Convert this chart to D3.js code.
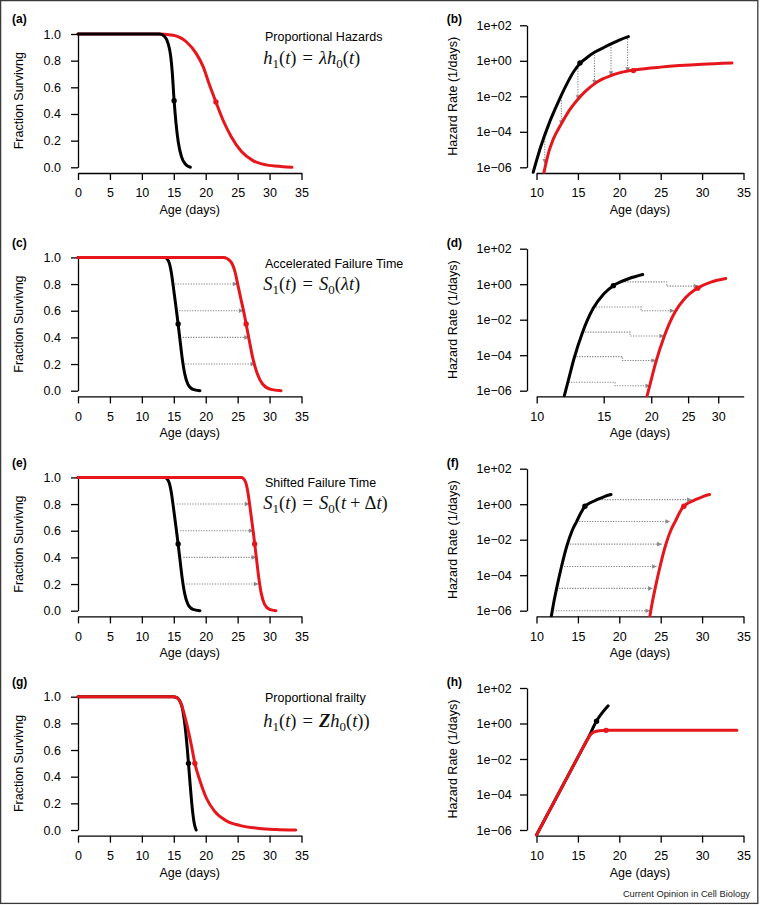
<!DOCTYPE html>
<html><head><meta charset="utf-8">
<script src="https://cdn.jsdelivr.net/npm/d3@7"></script>
<style>body{margin:0;background:#fff}</style>
</head><body>
<svg id="fig" width="760" height="905"></svg>
<script>
// ---------------- DATA ----------------
const survXTicks = [0,5,10,15,20,25,30,35];
const survYTicks = [0,0.2,0.4,0.6,0.8,1.0];
const survYLabels = ["0.0","0.2","0.4","0.6","0.8","1.0"];
const hazXTicks = [10,15,20,25,30,35];
const hazXTicksLog = [10,15,20,25,30];
const hazYTicks = [1e-6,1e-4,1e-2,1,1e2];
const hazYLabels = ["1e\u221206","1e\u221204","1e\u221202","1e+00","1e+02"];

// (a) proportional hazards - survival
const aBlack = [[0,1],[12.8,1],[13.6,0.98],[14.1,0.93],[14.5,0.84],[14.75,0.72],[15.05,0.5],[15.35,0.33],[15.7,0.19],[16.2,0.08],[16.8,0.025],[17.6,0]];
const aRed = [[0,1],[12.3,1],[14.9,0.99],[17.0,0.94],[18.5,0.855],[19.6,0.755],[20.5,0.63],[21.6,0.49],[22.7,0.355],[24.0,0.23],[25.6,0.118],[27.4,0.05],[29.5,0.018],[32.1,0.005],[33.5,0]];
const aDots = [[15.05,0.5],[21.6,0.49]];

// (b) proportional hazards - hazard
const bBlack = [[9.6,5.2e-7],[10.5,1.4e-5],[11.5,2.8e-4],[12.5,3.5e-3],[13.5,0.035],[14.5,0.25],[15.25,0.71],[16,1.4],[17,3.0],[18,5.2],[19,8.9],[20,14.8],[21.1,22.9]];
const bRed = [[10.9,5.2e-7],[11.5,7.9e-6],[12,3.6e-5],[13,2.8e-4],[14,1.7e-3],[15,6.9e-3],[16,0.021],[17,0.05],[18,0.095],[19,0.148],[20,0.209],[21,0.269],[22,0.316],[25,0.44],[30,0.63],[33.6,0.74]];
const bDots = [[15.25,0.76],[21.7,0.28]];
const bArrowX = [11,13,15,17,19,21];
const bArrowTop = [4.2e-5,0.012,0.76,3.0,8.3,17.4];
const bArrowBottom = [1.6e-6,2.5e-4,6.3e-3,0.045,0.141,0.24];

// (c) accelerated failure time - survival
const cBlack = [[0,1],[13.6,1],[14.2,0.97],[14.6,0.89],[14.9,0.79],[15.2,0.68],[15.5,0.57],[15.75,0.47],[16.0,0.37],[16.3,0.25],[16.7,0.13],[17.2,0.05],[18.0,0.01],[19.1,0]];
const cRed = [[0,1],[22.8,1],[23.9,0.97],[24.6,0.89],[25.05,0.79],[25.55,0.68],[26.05,0.57],[26.45,0.47],[26.85,0.37],[27.35,0.25],[28.05,0.13],[28.9,0.05],[30.2,0.01],[31.8,0]];
const cDots = [[15.68,0.5],[26.33,0.5]];
const cArrowY = [0.8,0.6,0.4,0.2];
const cArrowFrom = [15.2,15.83,16.4,16.77];
const cArrowTo = [24.97,25.91,26.75,27.74];

// (d) accelerated failure time - hazard (log age axis)
const dBlack = [[11.82,5.2e-7],[12.11,3.8e-6],[12.53,6.3e-5],[13.18,1.8e-3],[14.09,0.045],[15.0,0.28],[15.9,0.83],[16.49,1.26],[17.5,2.1],[19.0,3.5]];
const dRed = [[19.5,5.2e-7],[19.86,2.3e-6],[20.55,3.8e-5],[21.62,1.1e-3],[23.1,0.027],[24.6,0.17],[26.1,0.5],[27.0,0.76],[28.7,1.32],[31.4,2.1]];
const dDots = [[15.9,0.83],[26.5,0.6]];
const dArrowFromX = [12.11,12.53,13.18,14.09,16.49];
const dArrowFromY = [3.0e-6,8.3e-5,2.0e-3,0.052,1.35];
const dArrowStepX = [16.07,16.8,17.59,18.8,21.97];
const dArrowToY = [1.9e-6,5.0e-5,1.2e-3,0.032,0.78];
const dArrowToX = [19.86,20.59,21.61,23.0,26.6];

// (e) shifted failure time - survival
const eBlack = [[0,1],[13.6,1],[14.2,0.97],[14.6,0.89],[14.9,0.79],[15.2,0.68],[15.5,0.57],[15.75,0.47],[16.0,0.37],[16.3,0.25],[16.7,0.13],[17.2,0.05],[18.0,0.01],[19.1,0]];
const eRed = [[0,1],[25.6,1],[26.2,0.97],[26.6,0.89],[26.9,0.79],[27.2,0.68],[27.5,0.57],[27.75,0.47],[28.0,0.37],[28.3,0.25],[28.7,0.13],[29.2,0.05],[30.0,0.01],[31.0,0]];
const eDots = [[15.68,0.5],[27.66,0.5]];
const eArrowY = [0.8,0.6,0.4,0.2];
const eArrowFrom = [15.46,15.99,16.51,16.93];
const eArrowTo = [26.85,27.48,27.9,28.26];

// (f) shifted failure time - hazard
const fBlack = [[11.8,5.2e-7],[12.1,3.2e-6],[12.45,2.0e-5],[13.0,2.8e-4],[13.7,5.0e-3],[14.3,0.032],[14.84,0.105],[15.4,0.35],[15.85,0.76],[16.5,1.2],[17.3,1.8],[18.2,2.7],[19.0,3.5]];
const fRed = [[23.7,5.2e-7],[24.0,3.2e-6],[24.35,2.0e-5],[24.9,2.8e-4],[25.6,5.0e-3],[26.2,0.032],[26.75,0.105],[27.3,0.35],[27.75,0.76],[28.4,1.2],[29.2,1.8],[30.1,2.7],[30.9,3.5]];
const fDots = [[15.85,0.76],[27.8,0.76]];
const fArrowY = [1.0e-6,1.8e-5,3.1e-4,5.6e-3,0.105,1.8];
const fArrowFrom = [12.0,12.42,13.02,13.7,14.84,17.26];
const fArrowTo = [23.71,24.03,24.52,25.12,26.13,28.75];

// (g) proportional frailty - survival
const gBlack = [[0,1],[14.9,1],[15.4,0.995],[16.2,0.94],[16.6,0.84],[16.9,0.72],[17.15,0.59],[17.35,0.47],[17.6,0.32],[17.9,0.16],[18.2,0.05],[18.5,0]];
const gRed = [[0,1],[14.9,1],[15.4,0.995],[16.2,0.94],[17.0,0.8],[17.8,0.625],[18.3,0.5],[19.1,0.37],[20.1,0.24],[21.4,0.14],[23.2,0.07],[25.3,0.035],[28.4,0.012],[31.0,0.004],[34.1,0]];
const gDots = [[17.3,0.5],[18.3,0.5]];

// (h) proportional frailty - hazard
const hBlack = [[10,5.2e-7],[15.5,0.035],[16.2,0.14],[17.2,1.26],[18.65,10]];
const hRed = [[10,5.2e-7],[15.5,0.035],[16.2,0.14],[16.6,0.26],[17.0,0.34],[17.6,0.39],[18.4,0.41],[34.2,0.41]];
const hDots = [[17.25,1.35],[18.4,0.41]];

// ---------------- LAYOUT / STYLE ----------------
const FONT = "'Liberation Sans', Arial, Helvetica, sans-serif";
const SERIF = "'Liberation Serif', 'Times New Roman', serif";
const RED = "#e5161c";
const GRAY = "#8a8a8a";
const rowBottom = [167.3, 390.7, 610.7, 830];
const titleY = [41, 268, 487, 702];
const formulaY = [64, 289.5, 509, 726.5];

const svg = d3.select("#fig");
svg.append("rect").attr("x",0.6).attr("y",0.6).attr("width",757.2).attr("height",902.8)
  .attr("fill","#fff").attr("stroke","#3a3a3a").attr("stroke-width",1.3);

function styleAxis(a){
  a.attr("font-family",FONT).attr("font-size",12.5);
  a.selectAll("path,line").attr("stroke","#000").attr("stroke-width",1.3);
  a.selectAll("text").attr("fill","#000");
}

function arrowHead(g, p, q){ // tip at q, coming from p
  const ang = Math.atan2(q[1]-p[1], q[0]-p[0]);
  const L = 4.6, W = 2.3;
  const bx = q[0]-L*Math.cos(ang), by = q[1]-L*Math.sin(ang);
  const pts = [q,[bx - W*Math.sin(ang), by + W*Math.cos(ang)],[bx + W*Math.sin(ang), by - W*Math.cos(ang)]];
  g.append("path").attr("d","M"+pts.map(d=>d.join(",")).join("L")+"Z").attr("fill",GRAY);
}
function dottedArrow(g, pts){
  g.append("path").attr("d", d3.line()(pts)).attr("fill","none").attr("stroke",GRAY)
    .attr("stroke-width",1.1).attr("stroke-dasharray","1.3,1.3");
  arrowHead(g, pts[pts.length-2], pts[pts.length-1]);
}

function formula(g, x, y, parts){
  const t = g.append("text").attr("x",x).attr("y",y).attr("font-family",SERIF)
    .attr("font-size",18.5).attr("fill","#111");
  let prevSub = false;
  parts.forEach(p=>{
    const ts = t.append("tspan").text(p.t);
    if (p.i) ts.attr("font-style","italic");
    if (p.b) ts.attr("font-weight","bold");
    let dy = 0;
    if (p.sub){ ts.attr("font-size",13); if(!prevSub) dy = 4; }
    else if (prevSub) dy = -4;
    if (dy) ts.attr("dy",dy);
    if (p.dx) ts.attr("dx",p.dx);
    prevSub = !!p.sub;
  });
}

function drawLine(g, data, x, y, color){
  g.append("path").datum(data)
    .attr("d", d3.line().x(d=>x(d[0])).y(d=>y(d[1])).curve(d3.curveMonotoneX))
    .attr("fill","none").attr("stroke",color).attr("stroke-width",3)
    .attr("stroke-linecap","round").attr("stroke-linejoin","round");
}
function drawDots(g, dots, x, y){
  g.selectAll(null).data(dots).join("circle")
    .attr("cx",d=>x(d[0])).attr("cy",d=>y(d[1])).attr("r",2.7)
    .attr("fill",(d,i)=> i===0 ? "#000" : RED);
}

function survPanel(o){
  const B = rowBottom[o.row];
  const x = d3.scaleLinear().domain([0,35]).range([78,301.5]);
  const y = d3.scaleLinear().domain([0,1]).range([B, B-133.3]);
  const g = svg.append("g");
  const ax = g.append("g").attr("transform",`translate(0,${B+5.7})`)
    .call(d3.axisBottom(x).tickValues(survXTicks).tickSize(7).tickSizeOuter(0).tickPadding(8.4));
  const ay = g.append("g").attr("transform","translate(78,0)")
    .call(d3.axisLeft(y).tickValues(survYTicks).tickFormat((d,i)=>survYLabels[i]).tickSize(7).tickSizeOuter(0).tickPadding(10));
  styleAxis(ax); styleAxis(ay);
  g.append("text").attr("x",189.7).attr("y",B+46.7).attr("text-anchor","middle")
    .attr("font-family",FONT).attr("font-size",12.5).text("Age (days)");
  g.append("text").attr("transform",`translate(18.3,${B-66.6}) rotate(-90)`).attr("dy","0.35em")
    .attr("text-anchor","middle").attr("font-family",FONT).attr("font-size",12.5).text("Fraction Survivng");
  g.append("text").attr("x",12).attr("y",B-144).attr("font-family",FONT).attr("font-weight","bold")
    .attr("font-size",12).text(o.tag);
  g.append("text").attr("x",265).attr("y",titleY[o.row]).attr("font-family",FONT)
    .attr("font-size",12.5).text(o.title);
  formula(g, 263.3, formulaY[o.row], o.formula);
  if (o.arrows) o.arrows.forEach(a => dottedArrow(g, [[x(a[1]),y(a[0])],[x(a[2]),y(a[0])]]));
  if (o.blackOnTop){ drawLine(g,o.red,x,y,RED); drawLine(g,o.black,x,y,"#000"); }
  else { drawLine(g,o.black,x,y,"#000"); drawLine(g,o.red,x,y,RED); }
  drawDots(g, o.dots, x, y);
}

function hazPanel(o){
  const B = rowBottom[o.row];
  const x = o.logX ? d3.scaleLog().domain([10,35]).range([536.7,743.7])
                   : d3.scaleLinear().domain([10,35]).range([536.5,743.5]);
  const y = d3.scaleLog().domain([1e-6,1e2]).range([B, B-142]);
  const g = svg.append("g");
  const ax = g.append("g").attr("transform",`translate(0,${B+5.7})`)
    .call(d3.axisBottom(x).tickValues(o.logX ? hazXTicksLog : hazXTicks).tickFormat(d3.format("d"))
      .tickSize(7).tickSizeOuter(0).tickPadding(8.4));
  const ay = g.append("g").attr("transform","translate(527,0)")
    .call(d3.axisLeft(y).tickValues(hazYTicks).tickFormat((d,i)=>hazYLabels[i]).tickSize(7).tickSizeOuter(0).tickPadding(8.3));
  styleAxis(ax); styleAxis(ay);
  g.append("text").attr("x",640).attr("y",B+46.7).attr("text-anchor","middle")
    .attr("font-family",FONT).attr("font-size",12.5).text("Age (days)");
  g.append("text").attr("transform",`translate(452.7,${B-71})`+" rotate(-90)").attr("dy","0.35em")
    .attr("text-anchor","middle").attr("font-family",FONT).attr("font-size",12.5).text("Hazard Rate (1/days)");
  g.append("text").attr("x",446.7).attr("y",B-144).attr("font-family",FONT).attr("font-weight","bold")
    .attr("font-size",12).text(o.tag);
  if (o.arrows) o.arrows(g, x, y);
  drawLine(g,o.black,x,y,"#000");
  drawLine(g,o.red,x,y,RED);
  drawDots(g, o.dots, x, y);
}

// ---------------- PANELS ----------------
survPanel({row:0, tag:"(a)", black:aBlack, red:aRed, dots:aDots, blackOnTop:true,
  title:"Proportional Hazards",
  formula:[{t:"h",i:1},{t:"1",sub:1},{t:"("},{t:"t",i:1},{t:")"},{t:"=",dx:6},{t:"\u03bb",i:1,dx:6},{t:"h",i:1},{t:"0",sub:1},{t:"("},{t:"t",i:1},{t:")"}]});
hazPanel({row:0, tag:"(b)", black:bBlack, red:bRed, dots:bDots,
  arrows:(g,x,y)=> bArrowX.forEach((v,i)=> dottedArrow(g,[[x(v),y(bArrowTop[i])],[x(v),y(bArrowBottom[i])]]))});

survPanel({row:1, tag:"(c)", black:cBlack, red:cRed, dots:cDots,
  arrows: cArrowY.map((v,i)=>[v,cArrowFrom[i],cArrowTo[i]]),
  title:"Accelerated Failure Time",
  formula:[{t:"S",i:1},{t:"1",sub:1},{t:"("},{t:"t",i:1},{t:")"},{t:"=",dx:6},{t:"S",i:1,dx:6},{t:"0",sub:1},{t:"("},{t:"\u03bb",i:1},{t:"t",i:1},{t:")"}]});
hazPanel({row:1, tag:"(d)", logX:true, black:dBlack, red:dRed, dots:dDots,
  arrows:(g,x,y)=> dArrowFromX.forEach((v,i)=> dottedArrow(g,[[x(v),y(dArrowFromY[i])],[x(dArrowStepX[i]),y(dArrowFromY[i])],[x(dArrowStepX[i]),y(dArrowToY[i])],[x(dArrowToX[i]),y(dArrowToY[i])]]))});

survPanel({row:2, tag:"(e)", black:eBlack, red:eRed, dots:eDots,
  arrows: eArrowY.map((v,i)=>[v,eArrowFrom[i],eArrowTo[i]]),
  title:"Shifted Failure Time",
  formula:[{t:"S",i:1},{t:"1",sub:1},{t:"("},{t:"t",i:1},{t:")"},{t:"=",dx:6},{t:"S",i:1,dx:6},{t:"0",sub:1},{t:"("},{t:"t",i:1},{t:"+",dx:4},{t:"\u0394",dx:4},{t:"t",i:1},{t:")"}]});
hazPanel({row:2, tag:"(f)", black:fBlack, red:fRed, dots:fDots,
  arrows:(g,x,y)=> fArrowY.forEach((v,i)=> dottedArrow(g,[[x(fArrowFrom[i]),y(v)],[x(fArrowTo[i]),y(v)]]))});

survPanel({row:3, tag:"(g)", black:gBlack, red:gRed, dots:gDots,
  title:"Proportional frailty",
  formula:[{t:"h",i:1},{t:"1",sub:1},{t:"("},{t:"t",i:1},{t:")"},{t:"=",dx:6},{t:"Z",i:1,b:1,dx:6},{t:"h",i:1},{t:"0",sub:1},{t:"("},{t:"t",i:1},{t:"))"}]});
hazPanel({row:3, tag:"(h)", black:hBlack, red:hRed, dots:hDots});

svg.append("text").attr("x",750).attr("y",897).attr("text-anchor","end")
  .attr("font-family",FONT).attr("font-size",9.3).attr("fill","#222").text("Current Opinion in Cell Biology");
</script>
</body></html>
